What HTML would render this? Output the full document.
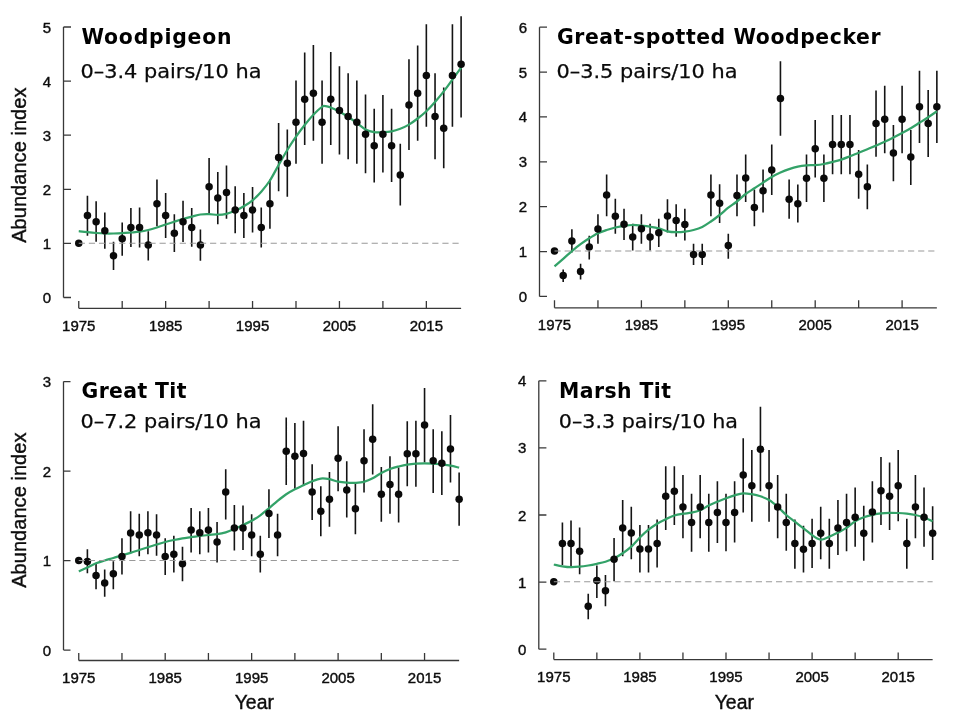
<!DOCTYPE html>
<html lang="en">
<head>
<meta charset="utf-8">
<title>Abundance index trends</title>
<style>
html,body{margin:0;padding:0;background:#fff;}
body{width:960px;height:720px;overflow:hidden;}
svg{display:block;}
</style>
</head>
<body>
<svg width="960" height="720" viewBox="0 0 960 720">
<rect width="960" height="720" fill="#ffffff"/>
<g id="panel1">
<path d="M63.5 27V297.5M63.5 297.5H71M63.5 243.4H71M63.5 189.3H71M63.5 135.2H71M63.5 81.1H71M63.5 27H71M78.75 308.3H461.11M78.75 308.3V301M122.2 308.3V301M165.65 308.3V301M209.1 308.3V301M252.55 308.3V301M296 308.3V301M339.45 308.3V301M382.9 308.3V301M426.35 308.3V301" fill="none" stroke="#383838" stroke-width="1.3"/>
<g font-family="'Liberation Sans', Arial, sans-serif" font-size="15" fill="#0d0d0d" stroke="#0d0d0d" stroke-width="0.4">
<text x="51.1" y="303" text-anchor="end">0</text>
<text x="51.1" y="248.9" text-anchor="end">1</text>
<text x="51.1" y="194.8" text-anchor="end">2</text>
<text x="51.1" y="140.7" text-anchor="end">3</text>
<text x="51.1" y="86.6" text-anchor="end">4</text>
<text x="51.1" y="32.5" text-anchor="end">5</text>
<text x="78.75" y="330.6" text-anchor="middle">1975</text>
<text x="165.65" y="330.6" text-anchor="middle">1985</text>
<text x="252.55" y="330.6" text-anchor="middle">1995</text>
<text x="339.45" y="330.6" text-anchor="middle">2005</text>
<text x="426.35" y="330.6" text-anchor="middle">2015</text>
</g>
<path d="M87.44 195.75V235.75M96.13 201.25V241.75M104.82 212.5V248.75M113.51 241.75V270M122.2 222.5V255.75M130.89 208V247M139.58 207.5V247.5M148.27 231.25V260.5M156.96 179.5V226.25M165.65 193V238M174.34 214.25V252M183.03 200.75V242M191.72 208V246.75M200.41 229.5V260.75M209.1 158V213.75M217.79 172V224.25M226.48 165.5V218.75M235.17 186.25V233.25M243.86 193V238M252.55 187V232.5M261.24 207.5V247.5M269.93 179.5V228.75M278.62 123V191.25M287.31 129.5V196.75M296 80.5V163.75M304.69 52.5V145M313.38 45V140.75M322.07 80.5V163.75M330.76 52V145M339.45 66.25V154.5M348.14 73.25V159.25M356.83 80.5V163.75M365.52 94.5V173.25M374.21 108.75V182.5M382.9 95V172.5M391.59 108.75V182M400.28 143.75V205.5M408.97 59.25V150M417.66 45.5V140.75M426.35 24.25V126.75M435.04 73.25V159.25M443.73 87.5V168.25M452.42 24.25V126.75M461.11 16.25V117.5" stroke="#141414" stroke-width="1.6" fill="none"/>
<path d="M78.75 231.2C80.2 231.37 84.54 231.9 87.44 232.2C90.34 232.5 93.23 232.78 96.13 233C99.03 233.22 101.92 233.42 104.82 233.5C107.72 233.58 110.61 233.55 113.51 233.5C116.41 233.45 119.3 233.37 122.2 233.2C125.1 233.03 127.99 232.75 130.89 232.5C133.79 232.25 136.68 232.12 139.58 231.7C142.48 231.28 145.37 230.7 148.27 230C151.17 229.3 154.06 228.42 156.96 227.5C159.86 226.58 162.75 225.47 165.65 224.5C168.55 223.53 171.44 222.62 174.34 221.7C177.24 220.78 180.13 219.83 183.03 219C185.93 218.17 188.82 217.45 191.72 216.7C194.62 215.95 197.51 214.92 200.41 214.5C203.31 214.08 206.2 214.15 209.1 214.2C212 214.25 214.89 214.87 217.79 214.8C220.69 214.73 223.58 214.47 226.48 213.8C229.38 213.13 232.27 212.05 235.17 210.8C238.07 209.55 240.96 208.05 243.86 206.3C246.76 204.55 249.65 202.73 252.55 200.3C255.45 197.87 258.34 195 261.24 191.7C264.14 188.4 267.03 184.95 269.93 180.5C272.83 176.05 275.72 170.08 278.62 165C281.52 159.92 284.41 154.72 287.31 150C290.21 145.28 293.1 140.87 296 136.7C298.9 132.53 301.79 128.67 304.69 125C307.59 121.33 310.48 117.73 313.38 114.7C316.28 111.67 320.04 108.22 322.07 106.8C324.1 105.38 324.1 106.08 325.55 106.2C326.99 106.32 328.44 106.57 330.76 107.5C333.08 108.43 336.55 110.25 339.45 111.8C342.35 113.35 345.24 114.93 348.14 116.8C351.04 118.67 353.93 120.88 356.83 123C359.73 125.12 362.62 127.97 365.52 129.5C368.42 131.03 371.31 131.75 374.21 132.2C377.11 132.65 380 132.35 382.9 132.2C385.8 132.05 388.69 131.88 391.59 131.3C394.49 130.72 397.38 129.82 400.28 128.7C403.18 127.58 406.07 126.3 408.97 124.6C411.87 122.9 414.76 120.73 417.66 118.5C420.56 116.27 423.45 113.95 426.35 111.2C429.25 108.45 432.14 105.3 435.04 102C437.94 98.7 440.83 95.13 443.73 91.4C446.63 87.67 449.52 83.55 452.42 79.6C455.32 75.65 459.66 69.68 461.11 67.7" stroke="#33a268" stroke-width="2.25" fill="none" stroke-linecap="butt" stroke-linejoin="round"/>
<g fill="#0a0a0a">
<circle cx="78.75" cy="243.25" r="3.75"/>
<circle cx="87.44" cy="215.5" r="3.75"/>
<circle cx="96.13" cy="221.75" r="3.75"/>
<circle cx="104.82" cy="230.75" r="3.75"/>
<circle cx="113.51" cy="255.75" r="3.75"/>
<circle cx="122.2" cy="238.75" r="3.75"/>
<circle cx="130.89" cy="227.5" r="3.75"/>
<circle cx="139.58" cy="227.5" r="3.75"/>
<circle cx="148.27" cy="245" r="3.75"/>
<circle cx="156.96" cy="203.75" r="3.75"/>
<circle cx="165.65" cy="215.5" r="3.75"/>
<circle cx="174.34" cy="233.25" r="3.75"/>
<circle cx="183.03" cy="221.75" r="3.75"/>
<circle cx="191.72" cy="227.5" r="3.75"/>
<circle cx="200.41" cy="245" r="3.75"/>
<circle cx="209.1" cy="186.75" r="3.75"/>
<circle cx="217.79" cy="198" r="3.75"/>
<circle cx="226.48" cy="192.5" r="3.75"/>
<circle cx="235.17" cy="210" r="3.75"/>
<circle cx="243.86" cy="215.5" r="3.75"/>
<circle cx="252.55" cy="210" r="3.75"/>
<circle cx="261.24" cy="227.5" r="3.75"/>
<circle cx="269.93" cy="203.75" r="3.75"/>
<circle cx="278.62" cy="157.5" r="3.75"/>
<circle cx="287.31" cy="163.25" r="3.75"/>
<circle cx="296" cy="122.25" r="3.75"/>
<circle cx="304.69" cy="99.25" r="3.75"/>
<circle cx="313.38" cy="93.25" r="3.75"/>
<circle cx="322.07" cy="122.25" r="3.75"/>
<circle cx="330.76" cy="99.25" r="3.75"/>
<circle cx="339.45" cy="110.5" r="3.75"/>
<circle cx="348.14" cy="116.5" r="3.75"/>
<circle cx="356.83" cy="122.25" r="3.75"/>
<circle cx="365.52" cy="134.25" r="3.75"/>
<circle cx="374.21" cy="145.75" r="3.75"/>
<circle cx="382.9" cy="134.25" r="3.75"/>
<circle cx="391.59" cy="145.75" r="3.75"/>
<circle cx="400.28" cy="175" r="3.75"/>
<circle cx="408.97" cy="105" r="3.75"/>
<circle cx="417.66" cy="93.25" r="3.75"/>
<circle cx="426.35" cy="75.5" r="3.75"/>
<circle cx="435.04" cy="116.5" r="3.75"/>
<circle cx="443.73" cy="128.25" r="3.75"/>
<circle cx="452.42" cy="75.5" r="3.75"/>
<circle cx="461.11" cy="64.25" r="3.75"/>
</g>
<path d="M78.75 243.25H461.11" stroke="#999999" stroke-width="1.2" stroke-dasharray="6.2 3.9" fill="none"/>
<text x="81.5" y="44" font-family="'DejaVu Sans', Verdana, sans-serif" font-weight="bold" font-size="20.4" fill="#000" textLength="150" lengthAdjust="spacing">Woodpigeon</text>
<text x="80.5" y="78" font-family="'DejaVu Sans', Verdana, sans-serif" font-size="19.8" fill="#0a0a0a" stroke="#0a0a0a" stroke-width="0.25" textLength="181" lengthAdjust="spacingAndGlyphs">0–3.4 pairs/10 ha</text>
</g>
<g id="panel2">
<path d="M539.5 27.18V296.4M539.5 296.4H547M539.5 251.53H547M539.5 206.66H547M539.5 161.79H547M539.5 116.92H547M539.5 72.05H547M539.5 27.18H547M554.5 307.8H936.86M554.5 307.8V300.2M597.95 307.8V300.2M641.4 307.8V300.2M684.85 307.8V300.2M728.3 307.8V300.2M771.75 307.8V300.2M815.2 307.8V300.2M858.65 307.8V300.2M902.1 307.8V300.2" fill="none" stroke="#383838" stroke-width="1.3"/>
<g font-family="'Liberation Sans', Arial, sans-serif" font-size="15" fill="#0d0d0d" stroke="#0d0d0d" stroke-width="0.4">
<text x="527.1" y="301.9" text-anchor="end">0</text>
<text x="527.1" y="257.03" text-anchor="end">1</text>
<text x="527.1" y="212.16" text-anchor="end">2</text>
<text x="527.1" y="167.29" text-anchor="end">3</text>
<text x="527.1" y="122.42" text-anchor="end">4</text>
<text x="527.1" y="77.55" text-anchor="end">5</text>
<text x="527.1" y="32.68" text-anchor="end">6</text>
<text x="554.5" y="330.1" text-anchor="middle">1975</text>
<text x="641.4" y="330.1" text-anchor="middle">1985</text>
<text x="728.3" y="330.1" text-anchor="middle">1995</text>
<text x="815.2" y="330.1" text-anchor="middle">2005</text>
<text x="902.1" y="330.1" text-anchor="middle">2015</text>
</g>
<path d="M563.19 269.5V282M571.88 229.25V252.5M580.57 263.75V279.5M589.26 235.75V259.5M597.95 214.25V243.75M606.64 174.5V216.25M615.33 198.75V233.75M624.02 208.75V240M632.71 223.75V250.5M641.4 214.25V243.75M650.09 223.75V250.5M658.78 218.75V247M667.47 199.25V232.5M676.16 204.25V236.75M684.85 208.75V240.5M693.54 243.75V265M702.23 243.75V265M710.92 174.5V216.25M719.61 184.25V223M728.3 233.75V258.75M736.99 174.5V216.25M745.68 154.5V202M754.37 189.5V226.25M763.06 169.5V212.5M771.75 144.5V195M780.44 61.25V135.75M789.13 179.5V218.75M797.82 184.5V222.5M806.51 154.5V202M815.2 120V177.5M823.89 154.5V202M832.58 115V174.25M841.27 115V174.25M849.96 115V174.25M858.65 150V198.75M867.34 164.5V209.25M876.03 90.5V156.75M884.72 85.75V153.25M893.41 125V181.25M902.1 85.75V153.25M910.79 130V185M919.48 70.75V143M928.17 90V157M936.86 70.75V143" stroke="#141414" stroke-width="1.6" fill="none"/>
<path d="M554.5 266.3C555.95 265.05 560.29 261.32 563.19 258.8C566.09 256.28 568.98 253.63 571.88 251.2C574.78 248.77 577.67 246.35 580.57 244.2C583.47 242.05 586.36 240.12 589.26 238.3C592.16 236.48 595.05 234.68 597.95 233.3C600.85 231.92 603.74 230.97 606.64 230C609.54 229.03 612.43 228.2 615.33 227.5C618.23 226.8 621.12 226.22 624.02 225.8C626.92 225.38 629.81 225.02 632.71 225C635.61 224.98 638.5 225.42 641.4 225.7C644.3 225.98 647.19 226.27 650.09 226.7C652.99 227.13 655.88 227.53 658.78 228.3C661.68 229.07 664.57 230.65 667.47 231.3C670.37 231.95 673.26 232.13 676.16 232.2C679.06 232.27 681.95 232.07 684.85 231.7C687.75 231.33 690.64 230.78 693.54 230C696.44 229.22 699.33 228.42 702.23 227C705.13 225.58 708.02 223.5 710.92 221.5C713.82 219.5 716.71 217.3 719.61 215C722.51 212.7 725.4 209.95 728.3 207.7C731.2 205.45 734.09 203.78 736.99 201.5C739.89 199.22 742.78 196.2 745.68 194C748.58 191.8 751.47 190.2 754.37 188.3C757.27 186.4 760.16 184.48 763.06 182.6C765.96 180.72 768.85 178.67 771.75 177C774.65 175.33 777.54 173.92 780.44 172.6C783.34 171.28 786.23 170.1 789.13 169.1C792.03 168.1 794.92 167.22 797.82 166.6C800.72 165.98 803.61 165.65 806.51 165.4C809.41 165.15 812.3 165.33 815.2 165.1C818.1 164.87 820.99 164.52 823.89 164C826.79 163.48 829.68 162.73 832.58 162C835.48 161.27 838.37 160.55 841.27 159.6C844.17 158.65 847.06 157.45 849.96 156.3C852.86 155.15 855.75 153.88 858.65 152.7C861.55 151.52 864.44 150.38 867.34 149.2C870.24 148.02 873.13 146.83 876.03 145.6C878.93 144.37 881.82 143.15 884.72 141.8C887.62 140.45 890.51 138.97 893.41 137.5C896.31 136.03 899.2 134.55 902.1 133C905 131.45 907.89 129.9 910.79 128.2C913.69 126.5 916.58 124.62 919.48 122.8C922.38 120.98 925.27 119.22 928.17 117.3C931.07 115.38 935.41 112.3 936.86 111.3" stroke="#33a268" stroke-width="2.25" fill="none" stroke-linecap="butt" stroke-linejoin="round"/>
<g fill="#0a0a0a">
<circle cx="554.5" cy="251" r="3.75"/>
<circle cx="563.19" cy="275.5" r="3.75"/>
<circle cx="571.88" cy="241" r="3.75"/>
<circle cx="580.57" cy="271.5" r="3.75"/>
<circle cx="589.26" cy="247" r="3.75"/>
<circle cx="597.95" cy="229" r="3.75"/>
<circle cx="606.64" cy="195" r="3.75"/>
<circle cx="615.33" cy="216.25" r="3.75"/>
<circle cx="624.02" cy="224.25" r="3.75"/>
<circle cx="632.71" cy="237" r="3.75"/>
<circle cx="641.4" cy="228.75" r="3.75"/>
<circle cx="650.09" cy="237" r="3.75"/>
<circle cx="658.78" cy="232.75" r="3.75"/>
<circle cx="667.47" cy="216" r="3.75"/>
<circle cx="676.16" cy="220.5" r="3.75"/>
<circle cx="684.85" cy="224.5" r="3.75"/>
<circle cx="693.54" cy="254.5" r="3.75"/>
<circle cx="702.23" cy="254.5" r="3.75"/>
<circle cx="710.92" cy="195" r="3.75"/>
<circle cx="719.61" cy="203.25" r="3.75"/>
<circle cx="728.3" cy="245.5" r="3.75"/>
<circle cx="736.99" cy="195.5" r="3.75"/>
<circle cx="745.68" cy="178" r="3.75"/>
<circle cx="754.37" cy="207.5" r="3.75"/>
<circle cx="763.06" cy="190.75" r="3.75"/>
<circle cx="771.75" cy="170" r="3.75"/>
<circle cx="780.44" cy="98.5" r="3.75"/>
<circle cx="789.13" cy="199.25" r="3.75"/>
<circle cx="797.82" cy="203.75" r="3.75"/>
<circle cx="806.51" cy="178.25" r="3.75"/>
<circle cx="815.2" cy="148.75" r="3.75"/>
<circle cx="823.89" cy="178.25" r="3.75"/>
<circle cx="832.58" cy="144.5" r="3.75"/>
<circle cx="841.27" cy="144.5" r="3.75"/>
<circle cx="849.96" cy="144.5" r="3.75"/>
<circle cx="858.65" cy="174.25" r="3.75"/>
<circle cx="867.34" cy="186.75" r="3.75"/>
<circle cx="876.03" cy="123.5" r="3.75"/>
<circle cx="884.72" cy="119.25" r="3.75"/>
<circle cx="893.41" cy="153" r="3.75"/>
<circle cx="902.1" cy="119.25" r="3.75"/>
<circle cx="910.79" cy="157" r="3.75"/>
<circle cx="919.48" cy="106.75" r="3.75"/>
<circle cx="928.17" cy="123.5" r="3.75"/>
<circle cx="936.86" cy="106.75" r="3.75"/>
</g>
<path d="M554.5 251H936.86" stroke="#999999" stroke-width="1.2" stroke-dasharray="6.2 3.9" fill="none"/>
<text x="557" y="43.9" font-family="'DejaVu Sans', Verdana, sans-serif" font-weight="bold" font-size="20.4" fill="#000" textLength="323.5" lengthAdjust="spacing">Great-spotted Woodpecker</text>
<text x="556.5" y="78" font-family="'DejaVu Sans', Verdana, sans-serif" font-size="19.8" fill="#0a0a0a" stroke="#0a0a0a" stroke-width="0.25" textLength="181" lengthAdjust="spacingAndGlyphs">0–3.5 pairs/10 ha</text>
</g>
<g id="panel3">
<path d="M63.5 381.6V650.1M63.5 650.1H70.5M63.5 560.6H70.5M63.5 471.1H70.5M63.5 381.6H70.5M78.75 660.5H459.13M78.75 660.5V653M121.97 660.5V653M165.2 660.5V653M208.42 660.5V653M251.65 660.5V653M294.88 660.5V653M338.1 660.5V653M381.32 660.5V653M424.55 660.5V653" fill="none" stroke="#383838" stroke-width="1.3"/>
<g font-family="'Liberation Sans', Arial, sans-serif" font-size="15" fill="#0d0d0d" stroke="#0d0d0d" stroke-width="0.4">
<text x="51.1" y="655.6" text-anchor="end">0</text>
<text x="51.1" y="566.1" text-anchor="end">1</text>
<text x="51.1" y="476.6" text-anchor="end">2</text>
<text x="51.1" y="387.1" text-anchor="end">3</text>
<text x="78.75" y="682.8" text-anchor="middle">1975</text>
<text x="165.2" y="682.8" text-anchor="middle">1985</text>
<text x="251.65" y="682.8" text-anchor="middle">1995</text>
<text x="338.1" y="682.8" text-anchor="middle">2005</text>
<text x="424.55" y="682.8" text-anchor="middle">2015</text>
</g>
<path d="M87.39 549.25V573.25M96.04 563.75V589.25M104.69 569.5V596.75M113.33 561.25V589.25M121.97 538.25V574.5M130.62 511.25V552.5M139.26 513.75V556.25M147.91 511.25V554.25M156.56 514.25V555.75M165.2 538.25V575M173.84 535.75V572.5M182.49 546.75V581.25M191.13 508V552.5M199.78 511.25V554.25M208.42 508V552.5M217.07 522V562.5M225.72 469.25V519.5M234.36 505V550.5M243 505.5V550M251.65 514.25V556.25M260.29 535.75V572.5M268.94 489.25V538M277.58 513.75V556.25M286.23 417.5V485M294.88 423V488.75M303.52 420.75V485.75M312.16 464.25V520M320.81 486.25V536.25M329.45 472V526.75M338.1 426.25V491.25M346.75 461.25V517.5M355.39 483.75V534.25M364.03 429.25V492.5M372.68 404.25V474.5M381.32 467V521.75M389.97 456.25V513.75M398.62 467.5V522.5M407.26 421.25V486.25M415.9 420.75V486.75M424.55 388V462.5M433.19 429.25V493M441.84 431.25V495M450.48 415V482.5M459.13 472.5V525.75" stroke="#141414" stroke-width="1.6" fill="none"/>
<path d="M78.75 571.3C80.19 570.67 84.51 568.83 87.39 567.5C90.28 566.17 93.16 564.47 96.04 563.3C98.92 562.13 101.8 561.38 104.69 560.5C107.57 559.62 110.45 558.87 113.33 558C116.21 557.13 119.09 556.17 121.97 555.3C124.86 554.43 127.74 553.68 130.62 552.8C133.5 551.92 136.38 550.93 139.26 550C142.15 549.07 145.03 548.12 147.91 547.2C150.79 546.28 153.67 545.37 156.56 544.5C159.44 543.63 162.32 542.75 165.2 542C168.08 541.25 170.96 540.62 173.84 540C176.73 539.38 179.61 538.77 182.49 538.3C185.37 537.83 188.25 537.58 191.13 537.2C194.02 536.82 196.9 536.37 199.78 536C202.66 535.63 205.54 535.3 208.42 535C211.31 534.7 214.19 534.65 217.07 534.2C219.95 533.75 222.83 533.17 225.72 532.3C228.6 531.43 231.48 530.22 234.36 529C237.24 527.78 240.12 526.37 243 525C245.89 523.63 248.77 522.42 251.65 520.8C254.53 519.18 257.41 517.38 260.29 515.3C263.18 513.22 266.06 510.72 268.94 508.3C271.82 505.88 274.7 503.15 277.58 500.8C280.47 498.45 283.35 496.13 286.23 494.2C289.11 492.27 291.99 490.68 294.88 489.2C297.76 487.72 300.64 486.62 303.52 485.3C306.4 483.98 309.28 482.42 312.16 481.3C315.05 480.18 317.93 478.95 320.81 478.6C323.69 478.25 326.57 478.68 329.45 479.2C332.34 479.72 335.22 481.12 338.1 481.7C340.98 482.28 343.86 482.52 346.75 482.7C349.63 482.88 352.51 482.95 355.39 482.8C358.27 482.65 361.15 482.55 364.03 481.8C366.92 481.05 369.8 479.77 372.68 478.3C375.56 476.83 378.44 474.55 381.32 473C384.21 471.45 387.09 470.08 389.97 469C392.85 467.92 395.73 467.23 398.62 466.5C401.5 465.77 404.38 465.08 407.26 464.6C410.14 464.12 413.02 463.82 415.9 463.6C418.79 463.38 421.67 463.3 424.55 463.3C427.43 463.3 430.31 463.4 433.19 463.6C436.08 463.8 438.96 464.15 441.84 464.5C444.72 464.85 447.6 465.17 450.48 465.7C453.37 466.23 457.69 467.37 459.13 467.7" stroke="#33a268" stroke-width="2.25" fill="none" stroke-linecap="butt" stroke-linejoin="round"/>
<g fill="#0a0a0a">
<circle cx="78.75" cy="560.5" r="3.75"/>
<circle cx="87.39" cy="561.5" r="3.75"/>
<circle cx="96.04" cy="575.5" r="3.75"/>
<circle cx="104.69" cy="583" r="3.75"/>
<circle cx="113.33" cy="573.75" r="3.75"/>
<circle cx="121.97" cy="556.5" r="3.75"/>
<circle cx="130.62" cy="533" r="3.75"/>
<circle cx="139.26" cy="535" r="3.75"/>
<circle cx="147.91" cy="532.75" r="3.75"/>
<circle cx="156.56" cy="535" r="3.75"/>
<circle cx="165.2" cy="556.5" r="3.75"/>
<circle cx="173.84" cy="554.25" r="3.75"/>
<circle cx="182.49" cy="563.75" r="3.75"/>
<circle cx="191.13" cy="530" r="3.75"/>
<circle cx="199.78" cy="532.75" r="3.75"/>
<circle cx="208.42" cy="530" r="3.75"/>
<circle cx="217.07" cy="542" r="3.75"/>
<circle cx="225.72" cy="492" r="3.75"/>
<circle cx="234.36" cy="528" r="3.75"/>
<circle cx="243" cy="528" r="3.75"/>
<circle cx="251.65" cy="535" r="3.75"/>
<circle cx="260.29" cy="554.25" r="3.75"/>
<circle cx="268.94" cy="513.5" r="3.75"/>
<circle cx="277.58" cy="535" r="3.75"/>
<circle cx="286.23" cy="451.25" r="3.75"/>
<circle cx="294.88" cy="456.25" r="3.75"/>
<circle cx="303.52" cy="453.5" r="3.75"/>
<circle cx="312.16" cy="492" r="3.75"/>
<circle cx="320.81" cy="511.25" r="3.75"/>
<circle cx="329.45" cy="499.25" r="3.75"/>
<circle cx="338.1" cy="458.25" r="3.75"/>
<circle cx="346.75" cy="490" r="3.75"/>
<circle cx="355.39" cy="508.75" r="3.75"/>
<circle cx="364.03" cy="460.75" r="3.75"/>
<circle cx="372.68" cy="439.25" r="3.75"/>
<circle cx="381.32" cy="494.25" r="3.75"/>
<circle cx="389.97" cy="484.5" r="3.75"/>
<circle cx="398.62" cy="494.25" r="3.75"/>
<circle cx="407.26" cy="453.75" r="3.75"/>
<circle cx="415.9" cy="453.75" r="3.75"/>
<circle cx="424.55" cy="425" r="3.75"/>
<circle cx="433.19" cy="460.75" r="3.75"/>
<circle cx="441.84" cy="463.25" r="3.75"/>
<circle cx="450.48" cy="449" r="3.75"/>
<circle cx="459.13" cy="499.25" r="3.75"/>
</g>
<path d="M78.75 560.5H459.13" stroke="#999999" stroke-width="1.2" stroke-dasharray="6.2 3.9" fill="none"/>
<text x="81.5" y="397.5" font-family="'DejaVu Sans', Verdana, sans-serif" font-weight="bold" font-size="20.4" fill="#000" textLength="105" lengthAdjust="spacing">Great Tit</text>
<text x="80.5" y="427.6" font-family="'DejaVu Sans', Verdana, sans-serif" font-size="19.8" fill="#0a0a0a" stroke="#0a0a0a" stroke-width="0.25" textLength="181" lengthAdjust="spacingAndGlyphs">0–7.2 pairs/10 ha</text>
</g>
<g id="panel4">
<path d="M538.8 380.8V649.2M538.8 649.2H546.4M538.8 582.1H546.4M538.8 515H546.4M538.8 447.9H546.4M538.8 380.8H546.4M553.8 659.6H932.64M553.8 659.6V652.5M596.85 659.6V652.5M639.9 659.6V652.5M682.95 659.6V652.5M726 659.6V652.5M769.05 659.6V652.5M812.1 659.6V652.5M855.15 659.6V652.5M898.2 659.6V652.5" fill="none" stroke="#383838" stroke-width="1.3"/>
<g font-family="'Liberation Sans', Arial, sans-serif" font-size="15" fill="#0d0d0d" stroke="#0d0d0d" stroke-width="0.4">
<text x="526.4" y="654.7" text-anchor="end">0</text>
<text x="526.4" y="587.6" text-anchor="end">1</text>
<text x="526.4" y="520.5" text-anchor="end">2</text>
<text x="526.4" y="453.4" text-anchor="end">3</text>
<text x="526.4" y="386.3" text-anchor="end">4</text>
<text x="553.8" y="681.9" text-anchor="middle">1975</text>
<text x="639.9" y="681.9" text-anchor="middle">1985</text>
<text x="726" y="681.9" text-anchor="middle">1995</text>
<text x="812.1" y="681.9" text-anchor="middle">2005</text>
<text x="898.2" y="681.9" text-anchor="middle">2015</text>
</g>
<path d="M562.41 522.5V565M571.02 520.5V566.25M579.63 527.5V574.25M588.24 593.75V619.25M596.85 565.5V598M605.46 575V606.25M614.07 538V581.25M622.68 500V556.25M631.29 506.75V559.25M639.9 525V572.5M648.51 525V572.5M657.12 519.5V567.5M665.73 466.25V530M674.34 466.25V525M682.95 475V538.25M691.56 493.75V551.75M700.17 475V538.25M708.78 493.75V551.75M717.39 481.25V543M726 493.75V551.25M734.61 481.25V542.5M743.22 438.25V512.5M751.83 450V521.75M760.44 406.75V491.25M769.05 450V521.75M777.66 475V538.25M786.27 493.75V550.75M794.88 519.5V568.75M803.49 525.75V572.5M812.1 518.75V568M820.71 506.75V559.25M829.32 518.75V568.75M837.93 500V555M846.54 493.75V551.25M855.15 487.5V546.75M863.76 505.75V560.75M872.37 481.25V542.5M880.98 457V525M889.59 462.5V530M898.2 450V521.25M906.81 518.75V568.75M915.42 475V538.25M924.03 487.5V546.75M932.64 506.25V560" stroke="#141414" stroke-width="1.6" fill="none"/>
<path d="M553.8 564.5C555.23 564.8 559.54 565.85 562.41 566.3C565.28 566.75 568.15 567.13 571.02 567.2C573.89 567.27 576.76 566.98 579.63 566.7C582.5 566.42 585.37 565.98 588.24 565.5C591.11 565.02 593.98 564.43 596.85 563.8C599.72 563.17 602.59 562.62 605.46 561.7C608.33 560.78 611.2 559.7 614.07 558.3C616.94 556.9 619.81 555.23 622.68 553.3C625.55 551.37 628.42 549.33 631.29 546.7C634.16 544.07 637.03 540.33 639.9 537.5C642.77 534.67 645.64 532 648.51 529.7C651.38 527.4 654.25 525.45 657.12 523.7C659.99 521.95 662.86 520.57 665.73 519.2C668.6 517.83 671.47 516.42 674.34 515.5C677.21 514.58 680.08 514.17 682.95 513.7C685.82 513.23 688.69 513.27 691.56 512.7C694.43 512.13 697.3 511.5 700.17 510.3C703.04 509.1 705.91 506.93 708.78 505.5C711.65 504.07 714.52 502.9 717.39 501.7C720.26 500.5 723.13 499.37 726 498.3C728.87 497.23 731.74 496.13 734.61 495.3C737.48 494.47 740.35 493.48 743.22 493.3C746.09 493.12 748.96 493.7 751.83 494.2C754.7 494.7 757.57 495.33 760.44 496.3C763.31 497.27 766.18 498.27 769.05 500C771.92 501.73 774.79 504.2 777.66 506.7C780.53 509.2 783.4 512.5 786.27 515C789.14 517.5 792.01 519.48 794.88 521.7C797.75 523.92 800.62 526.05 803.49 528.3C806.36 530.55 809.8 533.48 812.1 535.2C814.4 536.92 815.83 537.85 817.27 538.6C818.7 539.35 819.56 539.63 820.71 539.7C821.86 539.77 822.72 539.5 824.15 539C825.59 538.5 827.02 537.78 829.32 536.7C831.62 535.62 835.06 533.97 837.93 532.5C840.8 531.03 843.67 529.78 846.54 527.9C849.41 526.02 852.28 522.98 855.15 521.2C858.02 519.42 860.89 518.27 863.76 517.2C866.63 516.13 869.5 515.45 872.37 514.8C875.24 514.15 878.11 513.63 880.98 513.3C883.85 512.97 886.72 512.85 889.59 512.8C892.46 512.75 895.33 512.85 898.2 513C901.07 513.15 903.94 513.37 906.81 513.7C909.68 514.03 912.55 514.37 915.42 515C918.29 515.63 921.16 516.45 924.03 517.5C926.9 518.55 931.2 520.67 932.64 521.3" stroke="#33a268" stroke-width="2.25" fill="none" stroke-linecap="butt" stroke-linejoin="round"/>
<g fill="#0a0a0a">
<circle cx="553.8" cy="581.75" r="3.75"/>
<circle cx="562.41" cy="543.5" r="3.75"/>
<circle cx="571.02" cy="543.5" r="3.75"/>
<circle cx="579.63" cy="551.25" r="3.75"/>
<circle cx="588.24" cy="606.25" r="3.75"/>
<circle cx="596.85" cy="580.5" r="3.75"/>
<circle cx="605.46" cy="590.75" r="3.75"/>
<circle cx="614.07" cy="559.25" r="3.75"/>
<circle cx="622.68" cy="528" r="3.75"/>
<circle cx="631.29" cy="533" r="3.75"/>
<circle cx="639.9" cy="549" r="3.75"/>
<circle cx="648.51" cy="549" r="3.75"/>
<circle cx="657.12" cy="543.5" r="3.75"/>
<circle cx="665.73" cy="496.25" r="3.75"/>
<circle cx="674.34" cy="491.25" r="3.75"/>
<circle cx="682.95" cy="507" r="3.75"/>
<circle cx="691.56" cy="522.5" r="3.75"/>
<circle cx="700.17" cy="507" r="3.75"/>
<circle cx="708.78" cy="522.5" r="3.75"/>
<circle cx="717.39" cy="512.5" r="3.75"/>
<circle cx="726" cy="522.5" r="3.75"/>
<circle cx="734.61" cy="512.5" r="3.75"/>
<circle cx="743.22" cy="475" r="3.75"/>
<circle cx="751.83" cy="485.75" r="3.75"/>
<circle cx="760.44" cy="449.25" r="3.75"/>
<circle cx="769.05" cy="485.75" r="3.75"/>
<circle cx="777.66" cy="507" r="3.75"/>
<circle cx="786.27" cy="522.5" r="3.75"/>
<circle cx="794.88" cy="543.5" r="3.75"/>
<circle cx="803.49" cy="549.25" r="3.75"/>
<circle cx="812.1" cy="543.5" r="3.75"/>
<circle cx="820.71" cy="533.25" r="3.75"/>
<circle cx="829.32" cy="543.5" r="3.75"/>
<circle cx="837.93" cy="528" r="3.75"/>
<circle cx="846.54" cy="522.5" r="3.75"/>
<circle cx="855.15" cy="517.25" r="3.75"/>
<circle cx="863.76" cy="533.25" r="3.75"/>
<circle cx="872.37" cy="512" r="3.75"/>
<circle cx="880.98" cy="490.75" r="3.75"/>
<circle cx="889.59" cy="496.25" r="3.75"/>
<circle cx="898.2" cy="485.75" r="3.75"/>
<circle cx="906.81" cy="543.5" r="3.75"/>
<circle cx="915.42" cy="507" r="3.75"/>
<circle cx="924.03" cy="517.25" r="3.75"/>
<circle cx="932.64" cy="533.25" r="3.75"/>
</g>
<path d="M553.8 581.75H932.64" stroke="#999999" stroke-width="1.2" stroke-dasharray="6.2 3.9" fill="none"/>
<text x="559" y="397.8" font-family="'DejaVu Sans', Verdana, sans-serif" font-weight="bold" font-size="20.4" fill="#000" textLength="112" lengthAdjust="spacing">Marsh Tit</text>
<text x="558.8" y="427.6" font-family="'DejaVu Sans', Verdana, sans-serif" font-size="19.8" fill="#0a0a0a" stroke="#0a0a0a" stroke-width="0.25" textLength="179.2" lengthAdjust="spacingAndGlyphs">0–3.3 pairs/10 ha</text>
</g>
<g font-family="'Liberation Sans', Arial, sans-serif" font-size="20.1" fill="#0d0d0d" stroke="#0d0d0d" stroke-width="0.4">
<text transform="translate(25.8 165.2) rotate(-90)" text-anchor="middle">Abundance index</text>
<text transform="translate(25.8 510.2) rotate(-90)" text-anchor="middle">Abundance index</text>
<text x="254.3" y="708.7" text-anchor="middle" font-size="19.4">Year</text>
<text x="734.3" y="709.4" text-anchor="middle" font-size="19.4">Year</text>
</g>
</svg>
</body>
</html>
